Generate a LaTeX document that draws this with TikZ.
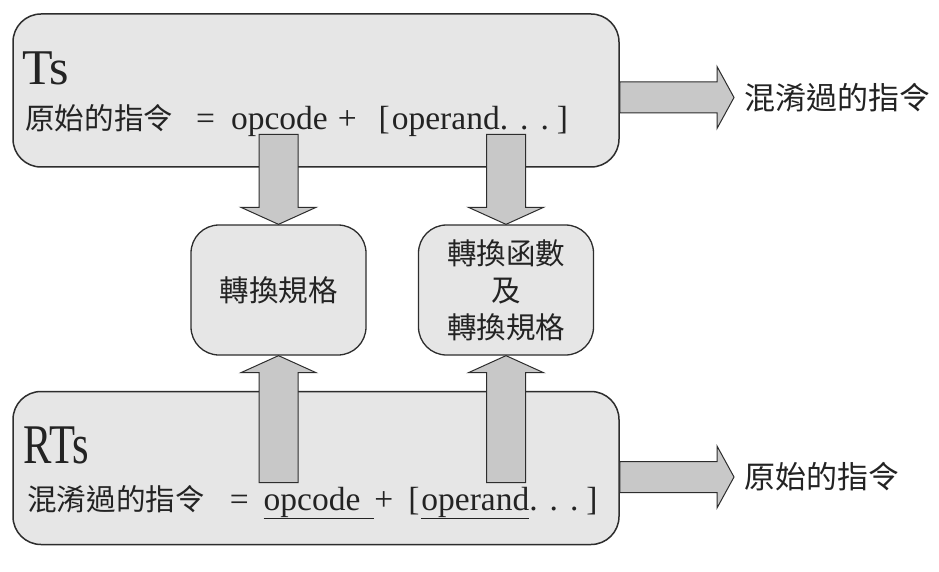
\documentclass[tikz,border=0pt]{standalone}
\usepackage{fontspec}
\setmainfont{Liberation Serif}
\newfontfamily\cjk{Noto Sans CJK TC}
\usetikzlibrary{calc}

\definecolor{boxfill}{RGB}{230,230,230}
\definecolor{arrowfill}{RGB}{200,200,200}
\definecolor{edge}{RGB}{45,45,45}
\definecolor{ink}{RGB}{35,35,35}

\tikzset{
  bigbox/.style={draw=edge, fill=boxfill, line width=1.5pt, rounded corners=28pt,
    minimum width=606pt, minimum height=153pt, inner sep=0pt},
  midbox/.style={draw=edge, fill=boxfill, line width=1.3pt, rounded corners=28pt,
    minimum width=175pt, minimum height=130pt, inner sep=0pt, align=center,
    text=ink, font=\cjk\fontsize{29.5}{37}\selectfont},
  blockarrow/.style={draw=edge, fill=arrowfill, line width=1pt, line join=miter},
  lbl/.style={inner sep=0pt, text=ink},
}

% block arrow: start, tip, shaft half width, head half width, head length
\newcommand\fatarrow[5]{%
  \coordinate (fa-h) at ($(#2)!#5!(#1)$);
  \filldraw[blockarrow]
    ($(#1)!#3!90:(#2)$) -- ($(fa-h)!#3!90:(#2)$) -- ($(fa-h)!#4!90:(#2)$) --
    (#2) --
    ($(fa-h)!#4!-90:(#2)$) -- ($(fa-h)!#3!-90:(#2)$) -- ($(#1)!#3!-90:(#2)$) -- cycle;
}

\begin{document}
\begin{tikzpicture}[x=1pt, y=-1pt]
\useasboundingbox[fill=white] (0,0) rectangle (939,572);

% the two outer boxes
\node[bigbox] (ts) at (316,90.5) {};
\node[bigbox] (rts) at (316,468) {};

% the two conversion boxes
\node[midbox] (ml) at (278.5,290) {轉換規格};
\node[midbox] (mr) at (506,290) {轉換函數\\及\\轉換規格};

% texts of the upper box
\node[lbl, anchor=base west] (tsname) at (22,85) {\fontsize{50}{50}\selectfont Ts};
\node[lbl, anchor=base west] (tsform) at (25,130) {\fontsize{33.5}{40}\selectfont
  {\cjk\fontsize{29.6}{40}\selectfont 原始的指令}\hspace{23pt}=\hspace{16pt}opcode\hspace{10pt}+\hspace{22pt}[\hspace{2pt}operand.\hspace{12pt}.\hspace{12pt}.\hspace{8pt}]};

% texts of the lower box
\node[lbl, anchor=base west] (rtsname) at (23,463) {\fontsize{56}{56}\selectfont\scalebox{0.76}[1]{RTs}};
\node[lbl, anchor=base west] (rtsform) at (27,510) {\fontsize{33.5}{40}\selectfont
  {\cjk\fontsize{29.6}{40}\selectfont 混淆過的指令}\hspace{25pt}=\hspace{15pt}\underline{opcode\hspace{14pt}}+\hspace{15pt}[\hspace{2pt}\underline{operand}.\hspace{12pt}.\hspace{12pt}.\hspace{8pt}]};

% outputs on the right
\node[lbl, anchor=west, font=\cjk\fontsize{31}{31}\selectfont] (outT) at (744,97.5) {混淆過的指令};
\node[lbl, anchor=west, font=\cjk\fontsize{31}{31}\selectfont] (outB) at (744,477) {原始的指令};

% arrow end points
\path (ml.north) ++(0,-90) coordinate (d1s);
\path (mr.north) ++(0,-90) coordinate (d2s);
\path (ml.south) ++(0,127) coordinate (u1s);
\path (mr.south) ++(0,127) coordinate (u2s);
\path (ts.east) ++(0,7) coordinate (r1s);
\path (rts.east) ++(0,9) coordinate (r2s);
\path (outT.west) ++(-10,0) coordinate (r1t);
\path (outB.west) ++(-10,0) coordinate (r2t);

% block arrows
\fatarrow{d1s}{ml.north}{19.5pt}{37.5pt}{17pt}
\fatarrow{d2s}{mr.north}{19.5pt}{37.5pt}{17pt}
\fatarrow{u1s}{ml.south}{19.5pt}{37.5pt}{17pt}
\fatarrow{u2s}{mr.south}{19.5pt}{37.5pt}{17pt}
\fatarrow{r1s}{r1t}{15.5pt}{31pt}{17pt}
\fatarrow{r2s}{r2t}{15.5pt}{31pt}{17pt}
\end{tikzpicture}
\end{document}
